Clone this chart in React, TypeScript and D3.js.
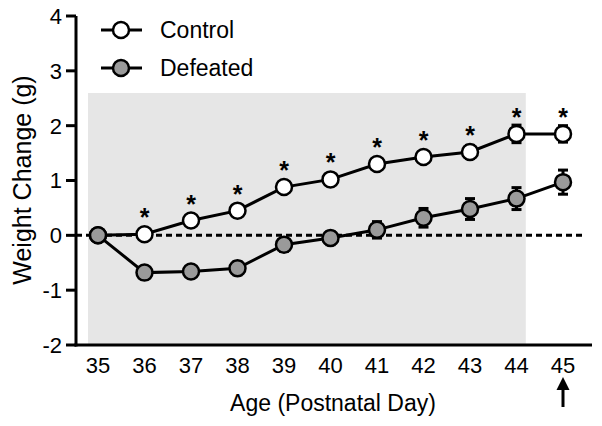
import React from "react";
import * as d3 from "d3";

const days = [35, 36, 37, 38, 39, 40, 41, 42, 43, 44, 45];
const controlMean = [0, 0.02, 0.27, 0.45, 0.88, 1.02, 1.3, 1.43, 1.52, 1.85, 1.85];
const controlErr = [0, 0.06, 0.08, 0.1, 0.1, 0.08, 0.08, 0.1, 0.12, 0.16, 0.15];
const defeatedMean = [0, -0.68, -0.66, -0.6, -0.17, -0.05, 0.1, 0.32, 0.48, 0.67, 0.97];
const defeatedErr = [0, 0.06, 0.08, 0.12, 0.12, 0.12, 0.15, 0.17, 0.19, 0.2, 0.22];
const significant = [36, 37, 38, 39, 40, 41, 42, 43, 44, 45];
const yTicks = [-2, -1, 0, 1, 2, 3, 4];
const shadedRange = [34.8, 44.2];

export default function App() {
  const W = 602, H = 426;
  const x = d3.scaleLinear().domain([35, 45]).range([98, 563]);
  const y = d3.scaleLinear().domain([-2, 4]).range([345, 16]);
  const line = d3.line<number>().x((_, i) => x(days[i])).y((d) => y(d));
  const font = "Arial, 'Liberation Sans', sans-serif";
  const r = 8;

  const series = [
    { name: "Control", mean: controlMean, err: controlErr, fill: "#ffffff" },
    { name: "Defeated", mean: defeatedMean, err: defeatedErr, fill: "#9a9a9a" },
  ];

  return (
    <svg width={W} height={H} style={{ position: "absolute", left: 0, top: 0, background: "#fff" }}>
      <rect x={88} y={93} width={x(shadedRange[1]) - 88} height={y(-2) - 93} fill="#e6e6e6" />
      <line x1={76} x2={583} y1={y(0)} y2={y(0)} stroke="#000" strokeWidth={3} strokeDasharray="6,4" />
      {/* axes */}
      <line x1={76} x2={76} y1={y(4)} y2={y(-2) + 1.5} stroke="#000" strokeWidth={3} />
      <line x1={74.5} x2={592} y1={y(-2)} y2={y(-2)} stroke="#000" strokeWidth={3} />
      {yTicks.map((t) => (
        <g key={t}>
          <line x1={66} x2={76} y1={y(t)} y2={y(t)} stroke="#000" strokeWidth={3} />
          <text x={62} y={y(t)} dy="0.36em" textAnchor="end" fontSize={22} fontFamily={font}>{t}</text>
        </g>
      ))}
      {days.map((d) => (
        <text key={d} x={x(d)} y={373} textAnchor="middle" fontSize={22} fontFamily={font}>{d}</text>
      ))}
      <text x={333} y={411} textAnchor="middle" fontSize={23} fontFamily={font}>Age (Postnatal Day)</text>
      <text transform={`translate(31,180) rotate(-90)`} textAnchor="middle" fontSize={25} fontFamily={font}>Weight Change (g)</text>
      {/* arrow */}
      <line x1={x(45)} x2={x(45)} y1={407} y2={388} stroke="#000" strokeWidth={3} />
      <path d={`M${x(45) - 6.5},${390} L${x(45)},${377} L${x(45) + 6.5},${390} Z`} fill="#000" />
      {/* series */}
      {series.map((s) => (
        <g key={s.name}>
          <path d={line(s.mean) || ""} fill="none" stroke="#000" strokeWidth={3} />
          {s.mean.map((m, i) => (
            <g key={i}>
              {s.err[i] > 0 && (
                <g stroke="#000" strokeWidth={3}>
                  <line x1={x(days[i])} x2={x(days[i])} y1={y(m + s.err[i])} y2={y(m - s.err[i])} />
                  <line x1={x(days[i]) - 5} x2={x(days[i]) + 5} y1={y(m + s.err[i])} y2={y(m + s.err[i])} />
                  <line x1={x(days[i]) - 5} x2={x(days[i]) + 5} y1={y(m - s.err[i])} y2={y(m - s.err[i])} />
                </g>
              )}
              <circle cx={x(days[i])} cy={y(m)} r={r} fill={s.fill} stroke="#000" strokeWidth={2.5} />
            </g>
          ))}
        </g>
      ))}
      {significant.map((d) => {
        const i = days.indexOf(d);
        return (
          <text key={d} x={x(d)} y={y(controlMean[i]) - 8} textAnchor="middle" fontSize={25} fontWeight="bold" fontFamily={font}>*</text>
        );
      })}
      {/* legend */}
      {series.map((s, i) => (
        <g key={s.name} transform={`translate(0,${30 + i * 38})`}>
          <line x1={101} x2={142} y1={0} y2={0} stroke="#000" strokeWidth={3} />
          <circle cx={121} cy={0} r={r} fill={s.fill} stroke="#000" strokeWidth={2.5} />
          <text x={160} y={0} dy="0.36em" fontSize={23} fontFamily={font}>{s.name}</text>
        </g>
      ))}
    </svg>
  );
}
